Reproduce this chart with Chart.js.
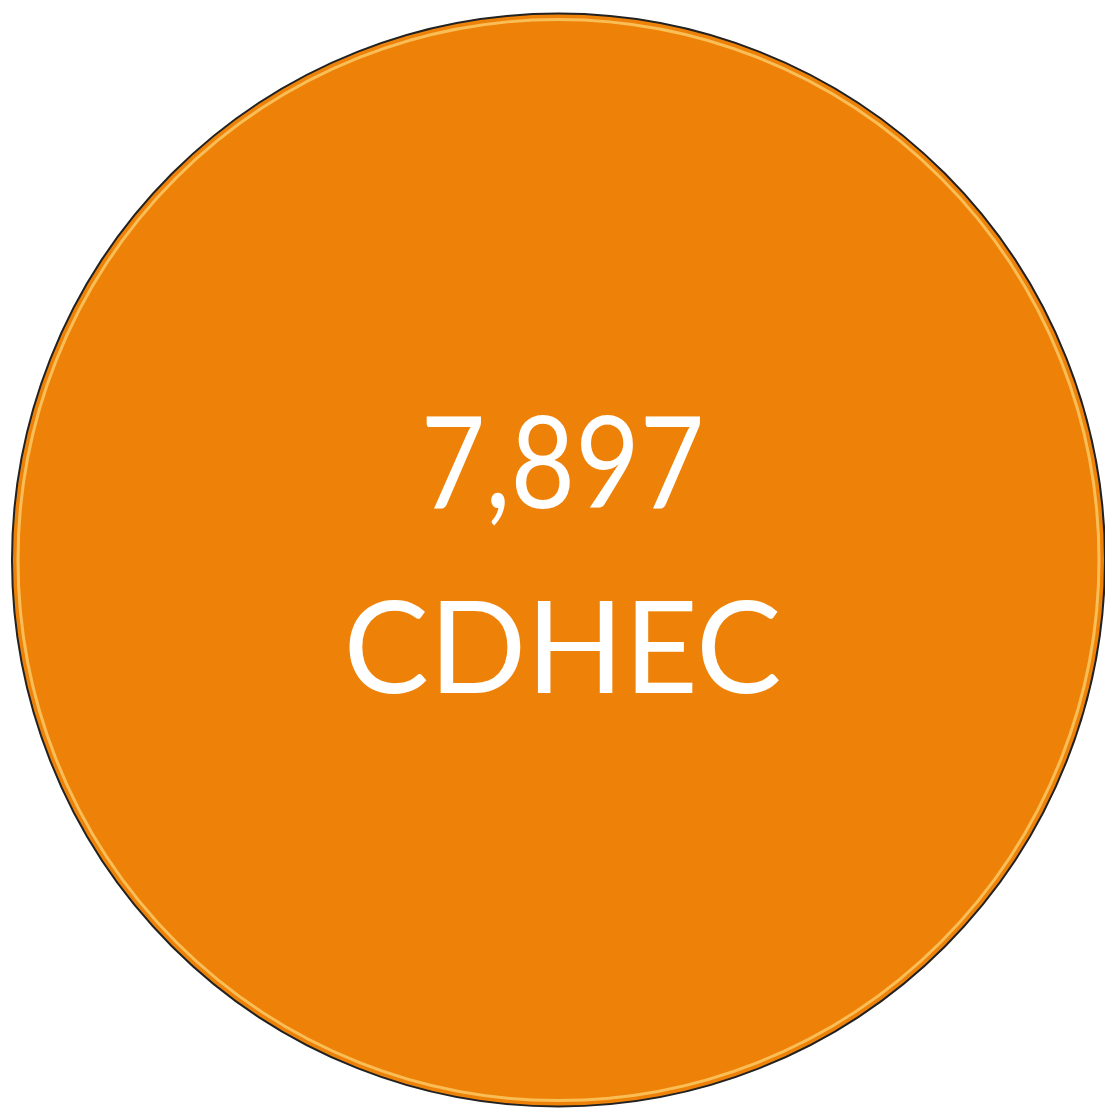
<!DOCTYPE html>
<html>
<head>
<meta charset="utf-8">
<script src="https://cdn.jsdelivr.net/npm/chart.js@4"></script>
<style>
  html, body { margin: 0; padding: 0; background: #fff; }
  #wrap { width: 1105px; height: 1112px; position: relative; }
</style>
</head>
<body>
<div id="wrap"><canvas id="chart"></canvas></div>
<script>
const labels = ['CDHEC'];
const values = [7897];
const colors = ['#EE8209'];

// rim and text drawn over the single slice
const centerText = {
  id: 'centerText',
  afterDatasetsDraw(chart) {
    const arc = chart.getDatasetMeta(0).data[0];
    const ctx = chart.ctx;
    ctx.save();

    // light highlight just inside the rim
    ctx.beginPath();
    ctx.arc(arc.x, arc.y, arc.outerRadius - 6, 0, Math.PI * 2);
    ctx.strokeStyle = 'rgba(255, 215, 120, 0.7)';
    ctx.lineWidth = 3;
    ctx.stroke();

    // dark outline (no radial seam like the dataset border gives)
    ctx.beginPath();
    ctx.arc(arc.x, arc.y, arc.outerRadius, 0, Math.PI * 2);
    ctx.strokeStyle = '#222';
    ctx.lineWidth = 2;
    ctx.stroke();

    ctx.fillStyle = '#fff';
    ctx.textAlign = 'center';
    ctx.textBaseline = 'alphabetic';
    ctx.font = '128px Lato';

    ctx.save();
    ctx.translate(arc.x + 4, 508);
    ctx.scale(0.87, 1);
    ctx.fillText(values[0].toLocaleString('en-US'), 0, 0);
    ctx.restore();

    ctx.fillText(labels[0], arc.x + 4, 693);
    ctx.restore();
  }
};

new Chart(document.getElementById('chart'), {
  type: 'pie',
  data: {
    labels: labels,
    datasets: [
      {
        data: values,
        backgroundColor: colors,
        borderWidth: 0,
      },
    ],
  },
  options: {
    responsive: true,
    maintainAspectRatio: false,
    animation: false,
    layout: {
      padding: { left: 12, right: 0, top: 12, bottom: 4 },
    },
    plugins: {
      legend: { display: false },
      tooltip: { enabled: false },
    },
  },
  plugins: [centerText],
});
</script>
</body>
</html>
